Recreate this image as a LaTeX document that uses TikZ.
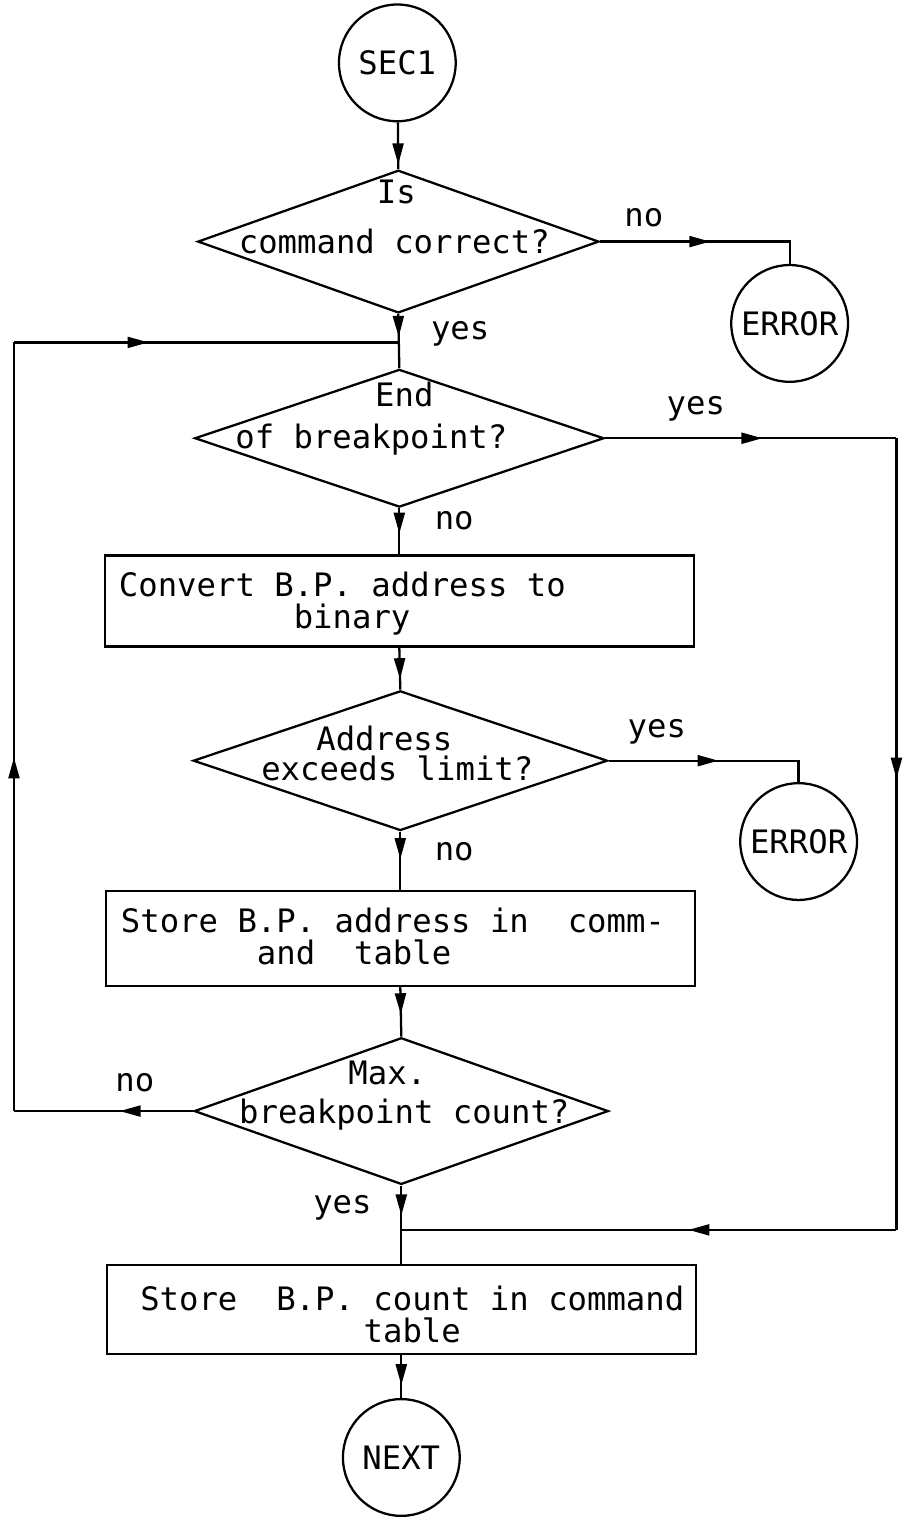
\documentclass[tikz,border=0pt]{standalone}
\usepackage{fontspec}
\newfontfamily\plotfont{DejaVu Sans Mono}
\usetikzlibrary{arrows.meta,shapes.geometric,decorations.markings}

\tikzset{
  arrowat/.style={postaction={decorate},
    decoration={markings,mark=at position #1 with {\arrow{Triangle[length=0.42cm,width=0.22cm]}}}},
  term/.style={draw,circle,minimum size=2.34cm,inner sep=0pt},
  stepbox/.style={draw,rectangle,minimum width=11.8cm,inner sep=0pt},
  decision/.style={draw,diamond,inner sep=0pt},
  txt/.style={inner sep=0pt},
}

\begin{document}
\begin{tikzpicture}[x=0.02cm,y=-0.02cm,line width=1.3pt,
    font=\plotfont\fontsize{18.4}{18.4}\selectfont]
            \fill[white] (0,0) rectangle (904,1517);

            % terminals and error exits
            \node[term] (sec)  at (398,63)   {SEC1};
            \node[term] (errA) at (791,324)  {ERROR};
            \node[term] (errB) at (800,843)  {ERROR};
            \node[term] (next) at (402,1460) {NEXT};

            % decisions
            \node[decision,minimum width=8.04cm,minimum height=2.86cm] (chk)   at (399,242)  {};
            \node[decision,minimum width=8.2cm,minimum height=2.76cm]  (endbp) at (400,439)  {};
            \node[decision,minimum width=8.3cm,minimum height=2.8cm]   (lim)   at (401,762)  {};
            \node[decision,minimum width=8.3cm,minimum height=2.94cm]  (maxbp) at (402,1113) {};

            % process boxes
            \node[stepbox,minimum height=1.82cm] (conv)  at (400,602)  {};
            \node[stepbox,minimum height=1.9cm]  (store) at (401,940)  {};
            \node[stepbox,minimum height=1.78cm] (count) at (402,1312) {};

            % texts
            \node[txt] (chkA) at (397,192) {Is};
            \node[txt] (chkB) at (395,242) {command correct?};
            \node[txt] (endA) at (405,395) {End};
            \node[txt] (endB) at (372,440) {of breakpoint?};
            \node[txt,anchor=west,align=left] (convT) at (118,605)
                {Convert B.P. address to\\\phantom{000000000}binary};
            \node[txt] (limA) at (385,740) {Address};
            \node[txt] (limB) at (398,770) {exceeds limit?};
            \node[txt,anchor=west,align=left] (storeT) at (120,938)
                {Store B.P. address in\ \ comm-\\\phantom{0000000}and\ \ table};
            \node[txt] (maxA) at (388,1075) {Max.};
            \node[txt] (maxB) at (405,1117) {breakpoint count?};
            \node[txt,align=center] (countT) at (413,1317)
                {Store\ \ B.P. count in command\\table};

            \foreach \name/\x/\y/\word in {
                noA/645/218/no, yesA/461/334/yes, yesB/697/410/yes, noB/455/522/no,
                yesC/658/733/yes, noC/455/853/no, noD/135/1085/no, yesD/343/1210/yes
            }{
                \node[txt] (\name) at (\x,\y) {\word};
            }

            % corners of the two side lines
            \coordinate (ltop) at (14,343);
            \coordinate (lbot) at (maxbp.west -| ltop);
            \coordinate (rbot) at (898,1232);
            \coordinate (rtop) at (endbp.east -| rbot);
            \coordinate (joinA) at (chk.south |- ltop);
            \coordinate (joinB) at (maxbp.south |- rbot);

            \draw[arrowat=0.9]  (sec) -- (chk.north);
            \draw[arrowat=0.52] (chk.east) -| (errA);
            \draw[arrowat=0.42] (chk.south) -- (endbp.north);
            \draw[arrowat=0.54] (endbp.east) -- (rtop);
            \draw[arrowat=0.43] (rtop) -- (rbot);
            \draw[arrowat=0.42] (rbot) -- (joinB);
            \draw[arrowat=0.55] (endbp.south) -- (conv.north);
            \draw[arrowat=0.75] (conv.south) -- (lim.north);
            \draw[arrowat=0.52] (lim.east) -| (errB);
            \draw[arrowat=0.47] (lim.south) -- (store.north);
            \draw[arrowat=0.55] (store.south) -- (maxbp.north);
            \draw[arrowat=0.38] (maxbp.south) -- (count.north);
            \draw[arrowat=0.7]  (count.south) -- (next);

            % loop back to the breakpoint test
            \draw[arrowat=0.41] (maxbp.west) -- (lbot);
            \draw[arrowat=0.46] (lbot) -- (ltop);
            \draw[arrowat=0.35] (ltop) -- (joinA);
        \end{tikzpicture}
\end{document}
